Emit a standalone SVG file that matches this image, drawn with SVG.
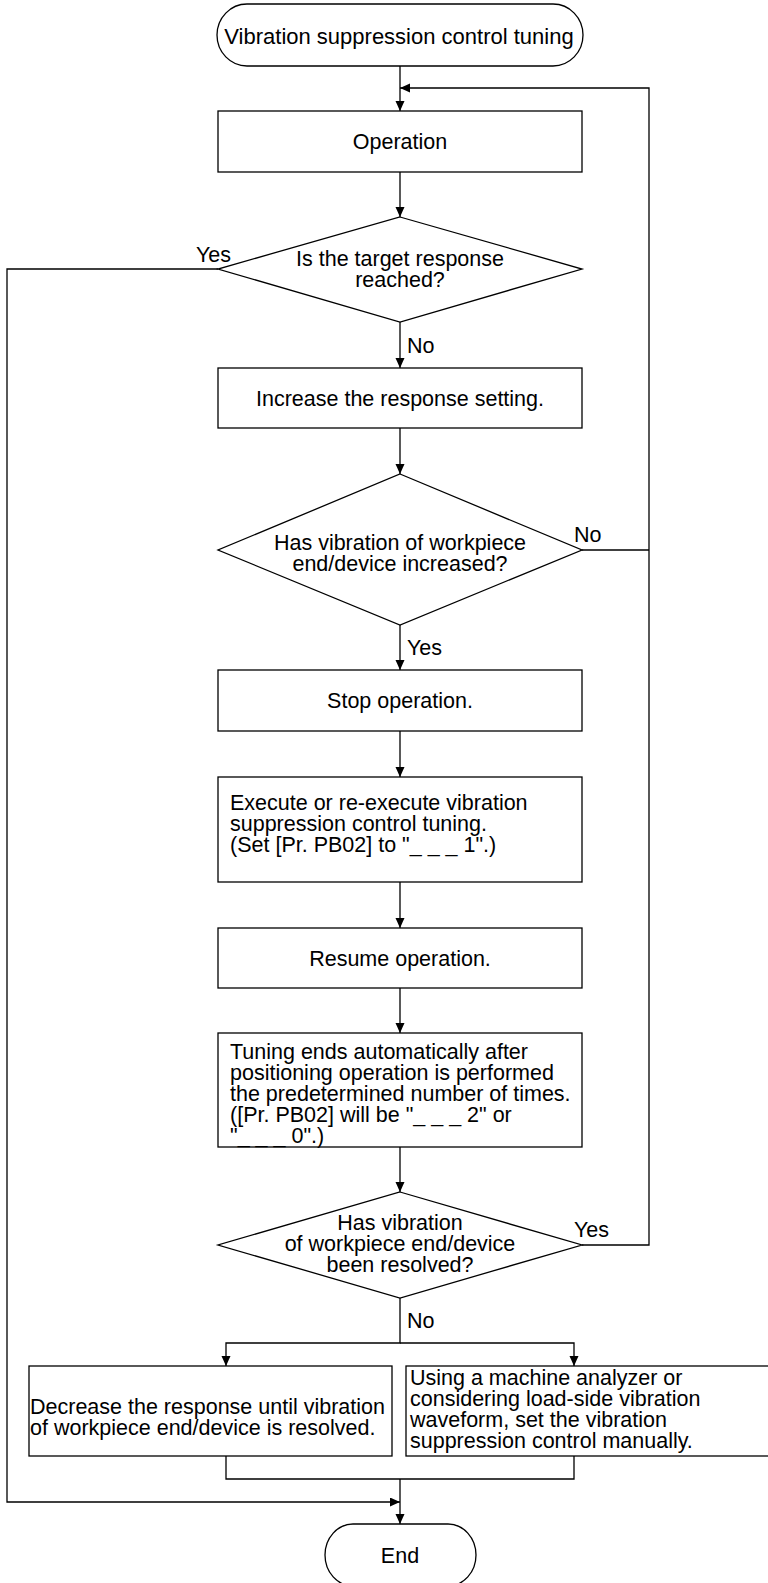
<svg xmlns="http://www.w3.org/2000/svg" width="768" height="1583" viewBox="0 0 768 1583">
<style>
.n{fill:#fff;stroke:#000;stroke-width:1.3}
.c{fill:none;stroke:#000;stroke-width:1.3}
text{font-family:"Liberation Sans",Arial,sans-serif;font-size:21.5px;fill:#000}
.m{text-anchor:middle}
</style>
<defs>
<marker id="ah" markerUnits="userSpaceOnUse" markerWidth="11" markerHeight="10" refX="10" refY="4.5" orient="auto">
<path d="M0,0 L10,4.5 L0,9 z" fill="#000"/>
</marker>
</defs>
<rect width="768" height="1583" fill="#fff"/>
<g id="connectors">
<path class="c" d="M400,66 V111" marker-end="url(#ah)"/>
<path class="c" d="M400,172 V217" marker-end="url(#ah)"/>
<path class="c" d="M400,322 V368" marker-end="url(#ah)"/>
<path class="c" d="M400,428 V474" marker-end="url(#ah)"/>
<path class="c" d="M400,625 V670" marker-end="url(#ah)"/>
<path class="c" d="M400,731 V777" marker-end="url(#ah)"/>
<path class="c" d="M400,882 V928" marker-end="url(#ah)"/>
<path class="c" d="M400,988 V1033" marker-end="url(#ah)"/>
<path class="c" d="M400,1147 V1192" marker-end="url(#ah)"/>
<path class="c" d="M400,1298 V1343 H226 V1366" marker-end="url(#ah)"/>
<path class="c" d="M400,1343 H574 V1366" marker-end="url(#ah)"/>
<path class="c" d="M226,1456 V1479 H574 V1456"/>
<path class="c" d="M400,1479 V1524" marker-end="url(#ah)"/>
<path class="c" d="M218,269 H7 V1502 H400" marker-end="url(#ah)"/>
<path class="c" d="M582,550 H649"/>
<path class="c" d="M582,1245 H649 V88 H400" marker-end="url(#ah)"/>
<text x="196" y="262">Yes</text>
<text x="407" y="353">No</text>
<text x="574" y="542">No</text>
<text x="407" y="655">Yes</text>
<text x="574" y="1237">Yes</text>
<text x="407" y="1328">No</text>
</g>
<g id="start">
<rect class="n" x="217" y="4" width="366" height="62" rx="30" ry="31"/>
<text class="m" x="399" y="43.5" style="font-size:22px">Vibration suppression control tuning</text>
</g>
<g id="operation">
<rect class="n" x="218" y="111" width="364" height="61"/>
<text class="m" x="400" y="149">Operation</text>
</g>
<g id="d1">
<polygon class="n" points="400,217 582,269 400,322 218,269"/>
<text class="m" x="400" y="266">Is the target response</text>
<text class="m" x="400" y="287">reached?</text>
</g>
<g id="increase">
<rect class="n" x="218" y="368" width="364" height="60"/>
<text class="m" x="400" y="406">Increase the response setting.</text>
</g>
<g id="d2">
<polygon class="n" points="400,474 582,550 400,625 218,550"/>
<text class="m" x="400" y="550">Has vibration of workpiece</text>
<text class="m" x="400" y="571">end/device increased?</text>
</g>
<g id="stop">
<rect class="n" x="218" y="670" width="364" height="61"/>
<text class="m" x="400" y="708">Stop operation.</text>
</g>
<g id="execute">
<rect class="n" x="218" y="777" width="364" height="105"/>
<text x="230" y="810">Execute or re-execute vibration</text>
<text x="230" y="831">suppression control tuning.</text>
<text x="230" y="852">(Set [Pr. PB02] to "_ _ _ 1".)</text>
</g>
<g id="resume">
<rect class="n" x="218" y="928" width="364" height="60"/>
<text class="m" x="400" y="966">Resume operation.</text>
</g>
<g id="tuning">
<rect class="n" x="218" y="1033" width="364" height="114"/>
<text x="230" y="1059">Tuning ends automatically after</text>
<text x="230" y="1080">positioning operation is performed</text>
<text x="230" y="1101">the predetermined number of times.</text>
<text x="230" y="1122">([Pr. PB02] will be "_ _ _ 2" or</text>
<text x="230" y="1143">"_ _ _ 0".)</text>
</g>
<g id="d3">
<polygon class="n" points="400,1192 582,1245 400,1298 218,1245"/>
<text class="m" x="400" y="1230">Has vibration</text>
<text class="m" x="400" y="1251">of workpiece end/device</text>
<text class="m" x="400" y="1272">been resolved?</text>
</g>
<g id="decrease">
<rect class="n" x="29" y="1366" width="363" height="90"/>
<text x="30" y="1414">Decrease the response until vibration</text>
<text x="30" y="1435">of workpiece end/device is resolved.</text>
</g>
<g id="manual">
<rect class="n" x="406" y="1366" width="370" height="90"/>
<text x="410" y="1385">Using a machine analyzer or</text>
<text x="410" y="1406">considering load-side vibration</text>
<text x="410" y="1427">waveform, set the vibration</text>
<text x="410" y="1448">suppression control manually.</text>
</g>
<g id="end">
<rect class="n" x="325" y="1524" width="151" height="62" rx="28" ry="31"/>
<text class="m" x="400" y="1563">End</text>
</g>
</svg>
